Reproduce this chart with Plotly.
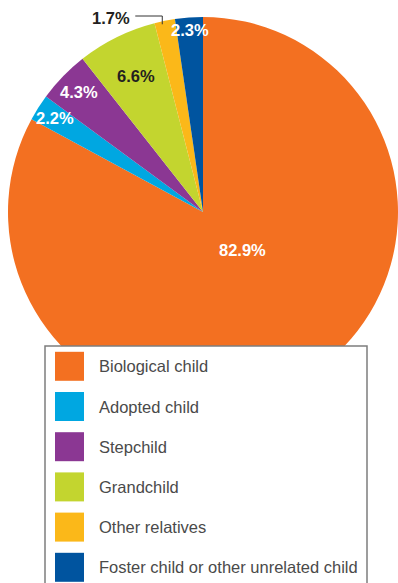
import math
import plotly.graph_objects as go

# Living arrangement of children by relationship to householder (%)
categories = [
    "Biological child",
    "Adopted child",
    "Stepchild",
    "Grandchild",
    "Other relatives",
    "Foster child or other unrelated child",
]
shares = [82.9, 2.2, 4.3, 6.6, 1.7, 2.3]
label_text = [f"{v:.1f}%" for v in shares]

colors = ["#F37021", "#00A7E1", "#8B3793", "#C3D52F", "#FBB819", "#00549F"]
label_colors = ["white", "white", "white", "#231F20", "#231F20", "white"]

W, H = 398, 583
PIE_LEFT, PIE_TOP, PIE_D = 8, 17, 390
CX, CY, R = PIE_LEFT + PIE_D / 2, PIE_TOP + PIE_D / 2, PIE_D / 2

# label placement per slice: radius fraction and angular nudge (degrees)
label_r = [0.28, 0.90, 0.885, 0.775, None, 0.935]
label_shift = [-15.0, 0.0, 0.0, 0.0, 0.0, 0.0]


def px(x):
    return x / W


def py(y):
    return 1 - y / H


fig = go.Figure(
    go.Pie(
        labels=categories,
        values=shares,
        sort=False,
        direction="clockwise",
        rotation=0,
        marker=dict(colors=colors, line=dict(width=0)),
        textinfo="none",
        hoverinfo="label+percent",
        showlegend=False,
        domain=dict(x=[px(PIE_LEFT), 1], y=[py(PIE_TOP + PIE_D), py(PIE_TOP)]),
    )
)

total = sum(shares)
annotations = []
shapes = []
cum = 0.0
for i, v in enumerate(shares):
    mid = (cum + v / 2) / total * 360.0
    cum += v
    if label_r[i] is None:
        # outside label with elbow leader line
        theta = math.radians(mid - 0.9)
        x0 = CX + 0.985 * R * math.sin(theta)
        y0 = CY - 0.985 * R * math.cos(theta)
        elbow_y = 16
        x_end = x0 - 27
        shapes.append(dict(type="line", xref="paper", yref="paper",
                           x0=px(x0), y0=py(y0), x1=px(x0), y1=py(elbow_y),
                           line=dict(color="#333333", width=1)))
        shapes.append(dict(type="line", xref="paper", yref="paper",
                           x0=px(x0), y0=py(elbow_y), x1=px(x_end), y1=py(elbow_y),
                           line=dict(color="#333333", width=1)))
        annotations.append(dict(x=px(x_end - 3), y=py(elbow_y + 2.5), xref="paper", yref="paper",
                                text=f"<b>{label_text[i]}</b>", showarrow=False,
                                xanchor="right", yanchor="middle",
                                font=dict(family="Liberation Sans, Arial", size=16.5,
                                          color=label_colors[i])))
        continue
    theta = math.radians(mid + label_shift[i])
    lx = CX + label_r[i] * R * math.sin(theta)
    ly = CY - label_r[i] * R * math.cos(theta)
    annotations.append(dict(x=px(lx), y=py(ly), xref="paper", yref="paper",
                            text=f"<b>{label_text[i]}</b>", showarrow=False,
                            xanchor="center", yanchor="middle",
                            font=dict(family="Liberation Sans, Arial", size=16.5,
                                      color=label_colors[i])))

# legend box drawn over the lower part of the pie
BOX_L, BOX_T, BOX_R, BOX_B = 45, 346, 367, 600
shapes.append(dict(type="rect", xref="paper", yref="paper", layer="above",
                   x0=px(BOX_L), y0=py(BOX_B), x1=px(BOX_R), y1=py(BOX_T),
                   fillcolor="white", line=dict(color="#7d7d7d", width=1.5)))
ROW0, ROW_STEP, SW = 366.3, 40.2, 29
for i, name in enumerate(categories):
    yc = ROW0 + i * ROW_STEP
    shapes.append(dict(type="rect", xref="paper", yref="paper", layer="above",
                       x0=px(55), x1=px(55 + SW), y0=py(yc + SW / 2), y1=py(yc - SW / 2),
                       fillcolor=colors[i], line=dict(width=0)))
    annotations.append(dict(x=px(97), y=py(yc), xref="paper", yref="paper",
                            text=name, showarrow=False, xanchor="left", yanchor="middle",
                            font=dict(family="Liberation Sans, Arial", size=16.5,
                                      color="#4a4a4a")))

fig.update_layout(
    width=W,
    height=H,
    margin=dict(l=0, r=0, t=0, b=0),
    paper_bgcolor="white",
    plot_bgcolor="white",
    shapes=shapes,
    annotations=annotations,
)

fig.write_html("out.html")
